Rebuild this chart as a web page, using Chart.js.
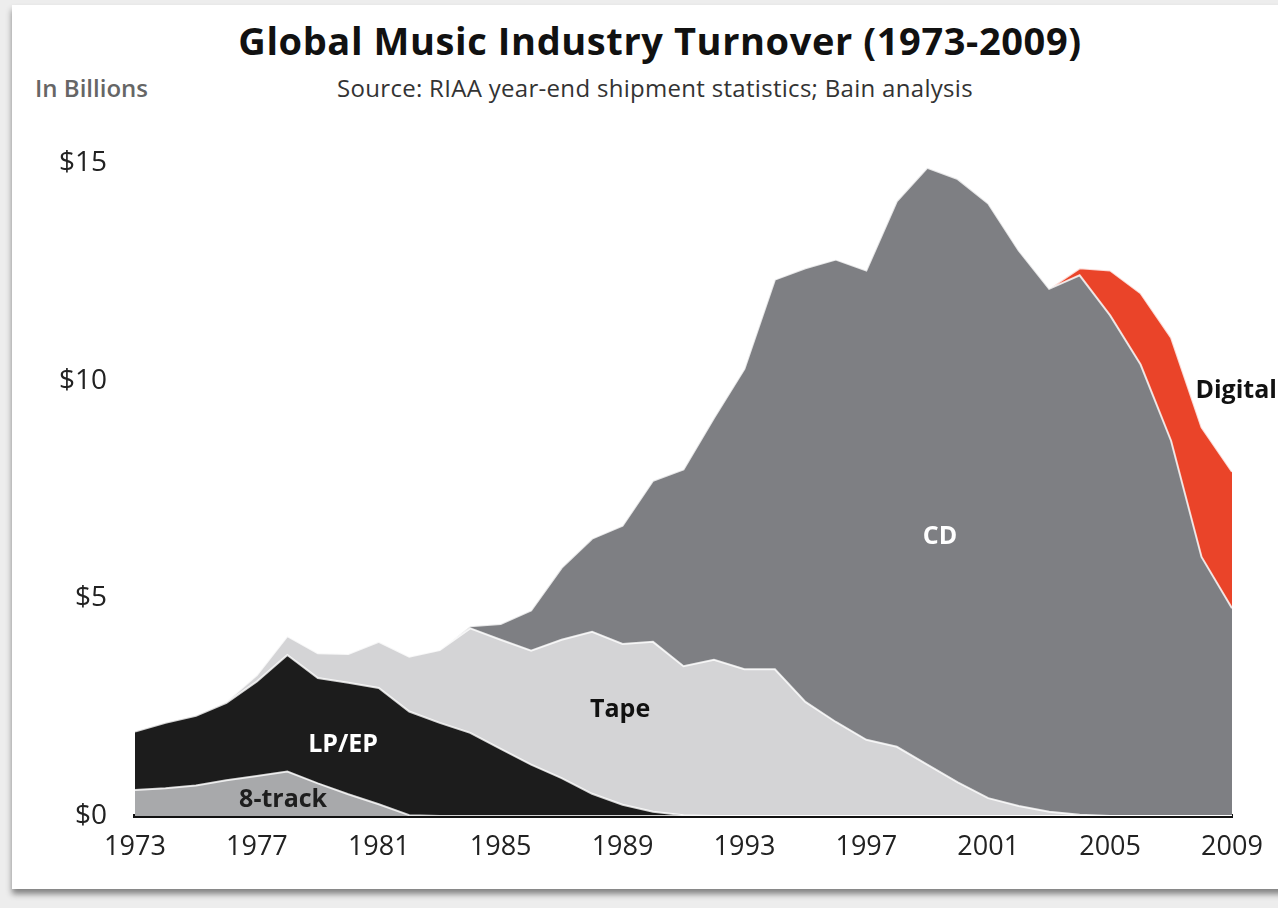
<!DOCTYPE html>
<html>
<head>
<meta charset="utf-8">
<script src="https://cdn.jsdelivr.net/npm/chart.js@4"></script>
<style>
  html, body { margin: 0; padding: 0; }
  body { width: 1278px; height: 908px; background: #ededed; position: relative; overflow: hidden; font-family: 'Open Sans', sans-serif; }
  #card { position: absolute; left: 12px; top: 5px; width: 1300px; height: 884px; background: #fff; box-shadow: 0 5px 6px rgba(0,0,0,0.45); }
  #title { position: absolute; left: 160px; width: 1000px; top: 21px; line-height: 1; text-align: center; font-weight: 700; font-size: 38px; color: #111; letter-spacing: 0.6px; }
  #subtitle { position: absolute; left: 205px; width: 900px; top: 76px; line-height: 1; text-align: center; font-size: 24px; color: #333; letter-spacing: 0.3px; }
  #units { position: absolute; left: 35px; top: 76px; line-height: 1; font-size: 24px; font-weight: 600; color: #666; }
  #wrap { position: absolute; left: 0; top: 0; width: 1278px; height: 908px; }
</style>
</head>
<body>
<div id="card"></div>
<div id="title">Global Music Industry Turnover (1973-2009)</div>
<div id="subtitle">Source: RIAA year-end shipment statistics; Bain analysis</div>
<div id="units">In Billions</div>
<div id="wrap"><canvas id="myChart"></canvas></div>
<script>
// values in $ billions
const years = [1973, 1974, 1975, 1976, 1977, 1978, 1979, 1980, 1981, 1982,
               1983, 1984, 1985, 1986, 1987, 1988, 1989, 1990, 1991, 1992,
               1993, 1994, 1995, 1996, 1997, 1998, 1999, 2000, 2001, 2002,
               2003, 2004, 2005, 2006, 2007, 2008, 2009];
const eightTrack = [0.60, 0.64, 0.70, 0.82, 0.92, 1.02, 0.75, 0.50, 0.27, 0.02,
                    0, 0, 0, 0, 0, 0, 0, 0, 0, 0,
                    0, 0, 0, 0, 0, 0, 0, 0, 0, 0,
                    0, 0, 0, 0, 0, 0, 0];
const lpEp = [1.34, 1.50, 1.60, 1.78, 2.17, 2.68, 2.42, 2.56, 2.67, 2.38,
              2.14, 1.91, 1.54, 1.18, 0.87, 0.51, 0.26, 0.10, 0.02, 0,
              0, 0, 0, 0, 0, 0, 0, 0, 0, 0,
              0, 0, 0, 0, 0, 0, 0];
const tape = [null, null, 0, 0.03, 0.15, 0.43, 0.57, 0.66, 1.06, 1.26,
              1.67, 2.40, 2.51, 2.62, 3.18, 3.72, 3.69, 3.90, 3.42, 3.59,
              3.37, 3.37, 2.62, 2.16, 1.75, 1.59, 1.18, 0.77, 0.41, 0.23,
              0.10, 0.03, 0, 0, 0, 0, 0];
const cd = [null, null, null, null, null, null, null, null, null, null,
            0, 0.05, 0.36, 0.92, 1.65, 2.14, 2.72, 3.70, 4.52, 5.55,
            6.90, 8.95, 9.96, 10.62, 10.78, 12.53, 13.71, 13.86, 13.66, 12.76,
            12.01, 12.39, 11.50, 10.37, 8.62, 5.95, 4.77];
const digital = [null, null, null, null, null, null, null, null, null, null,
                 null, null, null, null, null, null, null, null, null, null,
                 null, null, null, null, null, null, null, null, null, null,
                 0, 0.16, 1.03, 1.64, 2.37, 2.98, 3.14];
const yTicks = [0, 5, 10, 15];

// in-chart labels, placed in data coordinates (year index, $bn)
const areaLabels = [
  {text: '8-track', x: 4.86, y: 0.37, color: '#1e1e1e', align: 'center'},
  {text: 'LP/EP', x: 6.83, y: 1.63, color: '#ffffff', align: 'center'},
  {text: 'Tape', x: 15.92, y: 2.44, color: '#111111', align: 'center'},
  {text: 'CD', x: 26.42, y: 6.41, color: '#ffffff', align: 'center'},
  {text: 'Digital', x: 34.8, y: 9.76, color: '#111111', align: 'left'}
];

Chart.defaults.font.family = "'Open Sans', sans-serif";

const labelPlugin = {
  id: 'areaLabels',
  afterDatasetsDraw(chart) {
    const ctx = chart.ctx;
    const xs = chart.scales.x, ys = chart.scales.y;
    ctx.save();
    ctx.font = "bold 25px 'Open Sans', sans-serif";
    ctx.textBaseline = 'middle';
    for (let l of areaLabels) {
      ctx.fillStyle = l.color;
      ctx.textAlign = l.align;
      ctx.fillText(l.text, xs.getPixelForValue(l.x), ys.getPixelForValue(l.y));
    }
    ctx.restore();
  }
};

function layer(label, data, color, first) {
  return {
    label: label,
    data: data,
    backgroundColor: color,
    borderColor: 'rgba(255,255,255,0.8)',
    borderWidth: 2,
    pointRadius: 0,
    tension: 0,
    fill: first ? 'origin' : '-1'
  };
}

const ctx = document.getElementById('myChart').getContext('2d');
new Chart(ctx, {
  type: 'line',
  data: {
    labels: years,
    datasets: [
      layer('8-track', eightTrack, '#a8a9ab', true),
      layer('LP/EP', lpEp, '#1c1c1c', false),
      layer('Tape', tape, '#d4d4d6', false),
      layer('CD', cd, '#7e7f83', false),
      layer('Digital', digital, '#ea4429', false)
    ]
  },
  options: {
    responsive: true,
    maintainAspectRatio: false,
    animation: false,
    layout: { padding: { left: 0, right: 46, top: 163, bottom: 0 } },
    plugins: {
      legend: { display: false },
      tooltip: { enabled: false }
    },
    scales: {
      x: {
        z: 1,
        grid: { display: false, drawTicks: false },
        border: { display: true, color: '#111', width: 4 },
        ticks: {
          autoSkip: false,
          maxRotation: 0,
          padding: 15,
          color: '#222',
          font: { size: 27 },
          callback: function(val, i) { return i % 4 === 0 ? years[i] : null; }
        },
        afterFit: function(scale) { scale.height = 92; }
      },
      y: {
        stacked: true,
        min: 0,
        max: 15,
        grid: { display: false, drawTicks: false },
        border: { display: false },
        afterBuildTicks: function(scale) { scale.ticks = yTicks.map(v => ({value: v})); },
        ticks: {
          padding: 28,
          color: '#222',
          font: { size: 28 },
          callback: function(v) { return '$' + v; }
        },
        afterFit: function(scale) { scale.width = 135; }
      }
    }
  },
  plugins: [labelPlugin]
});
</script>
</body>
</html>
